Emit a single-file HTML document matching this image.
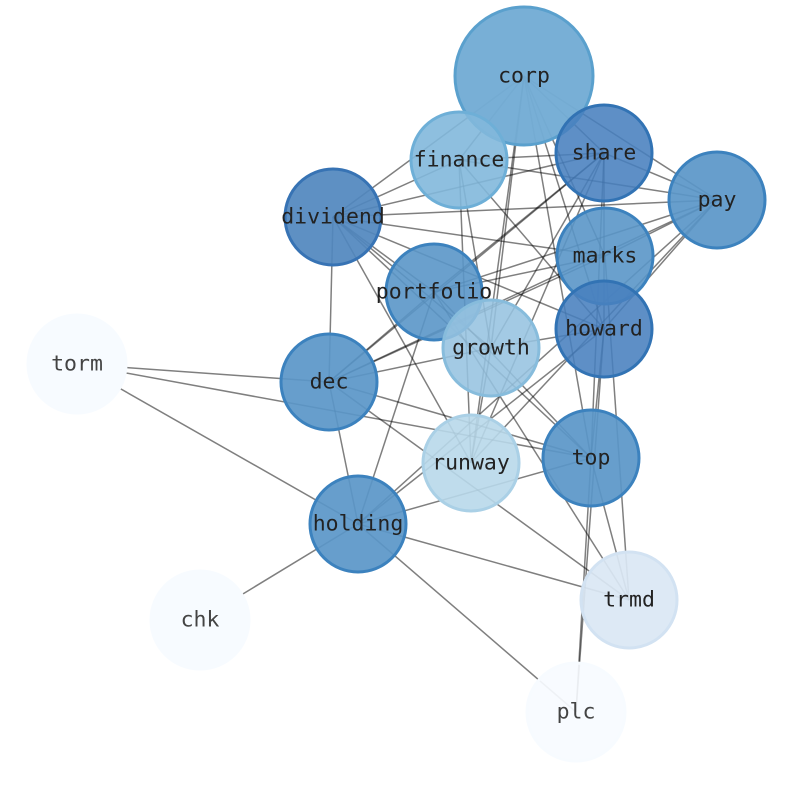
<!DOCTYPE html>
<html><head><style>body{margin:0;background:#fff}svg{display:block}</style></head><body>
<svg width="794" height="790" viewBox="0 0 794 790" xmlns="http://www.w3.org/2000/svg">
<g stroke="#000" stroke-opacity="0.5" stroke-width="1.5">
<line x1="524" y1="76" x2="333" y2="217"/><line x1="524" y1="76" x2="459" y2="160"/><line x1="524" y1="76" x2="604" y2="153"/><line x1="524" y1="76" x2="717" y2="200"/><line x1="524" y1="76" x2="605" y2="256"/><line x1="524" y1="76" x2="604" y2="329"/><line x1="524" y1="76" x2="491" y2="348"/><line x1="524" y1="76" x2="471" y2="463"/><line x1="524" y1="76" x2="591" y2="458"/>
<line x1="459" y1="160" x2="604" y2="153"/><line x1="459" y1="160" x2="717" y2="200"/><line x1="459" y1="160" x2="333" y2="217"/><line x1="459" y1="160" x2="491" y2="348"/><line x1="459" y1="160" x2="471" y2="463"/><line x1="459" y1="160" x2="604" y2="329"/>
<line x1="604" y1="153" x2="333" y2="217"/><line x1="604" y1="153" x2="717" y2="200"/><line x1="604" y1="153" x2="329" y2="382"/><line x1="604" y1="153" x2="434" y2="292"/><line x1="604" y1="153" x2="471" y2="463"/><line x1="604" y1="153" x2="604" y2="329"/><line x1="604" y1="153" x2="591" y2="458"/><line x1="604" y1="153" x2="491" y2="348"/>
<line x1="717" y1="200" x2="333" y2="217"/><line x1="717" y1="200" x2="434" y2="292"/><line x1="717" y1="200" x2="329" y2="382"/><line x1="717" y1="200" x2="604" y2="329"/><line x1="717" y1="200" x2="358" y2="524"/><line x1="717" y1="200" x2="471" y2="463"/><line x1="717" y1="200" x2="605" y2="256"/>
<line x1="333" y1="217" x2="329" y2="382"/><line x1="333" y1="217" x2="605" y2="256"/><line x1="333" y1="217" x2="604" y2="329"/><line x1="333" y1="217" x2="491" y2="348"/><line x1="333" y1="217" x2="471" y2="463"/><line x1="333" y1="217" x2="591" y2="458"/><line x1="333" y1="217" x2="434" y2="292"/>
<line x1="605" y1="256" x2="434" y2="292"/><line x1="605" y1="256" x2="329" y2="382"/><line x1="605" y1="256" x2="629" y2="600"/>
<line x1="434" y1="292" x2="358" y2="524"/><line x1="434" y1="292" x2="329" y2="382"/><line x1="434" y1="292" x2="591" y2="458"/><line x1="434" y1="292" x2="629" y2="600"/>
<line x1="604" y1="329" x2="491" y2="348"/><line x1="604" y1="329" x2="591" y2="458"/><line x1="604" y1="329" x2="358" y2="524"/><line x1="604" y1="329" x2="576" y2="712"/>
<line x1="491" y1="348" x2="329" y2="382"/><line x1="491" y1="348" x2="471" y2="463"/>
<line x1="77" y1="364" x2="329" y2="382"/><line x1="77" y1="364" x2="591" y2="458"/><line x1="77" y1="364" x2="358" y2="524"/>
<line x1="329" y1="382" x2="591" y2="458"/><line x1="329" y1="382" x2="629" y2="600"/><line x1="329" y1="382" x2="358" y2="524"/>
<line x1="591" y1="458" x2="358" y2="524"/><line x1="591" y1="458" x2="629" y2="600"/><line x1="591" y1="458" x2="576" y2="712"/>
<line x1="358" y1="524" x2="629" y2="600"/><line x1="358" y1="524" x2="576" y2="712"/><line x1="358" y1="524" x2="200" y2="620"/>
</g>
<g stroke-width="3">
<circle cx="524" cy="76" r="69" fill="rgb(116,172,213)" stroke="rgb(90,160,205)" fill-opacity="0.97"/>
<circle cx="459" cy="160" r="48" fill="rgb(130,184,219)" stroke="rgb(110,175,215)" fill-opacity="0.9"/>
<circle cx="604" cy="153" r="48" fill="rgb(72,128,190)" stroke="rgb(50,115,180)" fill-opacity="0.88"/>
<circle cx="717" cy="200" r="48" fill="rgb(90,150,200)" stroke="rgb(60,130,190)" fill-opacity="0.92"/>
<circle cx="333" cy="217" r="48" fill="rgb(80,135,190)" stroke="rgb(55,115,180)" fill-opacity="0.92"/>
<circle cx="605" cy="256" r="48" fill="rgb(90,150,200)" stroke="rgb(60,130,190)" fill-opacity="0.9"/>
<circle cx="434" cy="292" r="48" fill="rgb(90,150,200)" stroke="rgb(60,130,190)" fill-opacity="0.9"/>
<circle cx="604" cy="329" r="48" fill="rgb(72,128,190)" stroke="rgb(50,115,180)" fill-opacity="0.88"/>
<circle cx="491" cy="348" r="48" fill="rgb(150,195,224)" stroke="rgb(135,188,220)" fill-opacity="0.88"/>
<circle cx="77" cy="364" r="49" fill="#f7fbff" stroke="#f7fbff"/>
<circle cx="329" cy="382" r="48" fill="rgb(90,150,200)" stroke="rgb(60,130,190)" fill-opacity="0.92"/>
<circle cx="471" cy="463" r="48" fill="rgb(184,216,234)" stroke="rgb(170,208,230)" fill-opacity="0.9"/>
<circle cx="591" cy="458" r="48" fill="rgb(90,150,200)" stroke="rgb(60,130,190)" fill-opacity="0.92"/>
<circle cx="358" cy="524" r="48" fill="rgb(90,150,200)" stroke="rgb(60,130,190)" fill-opacity="0.92"/>
<circle cx="200" cy="620" r="49" fill="#f7fbff" stroke="#f7fbff"/>
<circle cx="629" cy="600" r="48" fill="rgb(218,231,244)" stroke="rgb(210,226,242)" fill-opacity="0.92"/>
<circle cx="576" cy="712" r="49" fill="#f7fbff" stroke="#f7fbff" fill-opacity="0.92"/>
</g>
<g font-family="'DejaVu Sans Mono','Liberation Mono',monospace" font-size="21.5" fill="#222" text-anchor="middle" dominant-baseline="central">
<text x="524" y="76">corp</text><text x="459" y="160">finance</text><text x="604" y="153">share</text><text x="717" y="200">pay</text><text x="333" y="217">dividend</text><text x="605" y="256">marks</text><text x="434" y="292">portfolio</text><text x="604" y="329">howard</text><text x="491" y="348">growth</text><text x="77" y="364" fill="#444">torm</text><text x="329" y="382">dec</text><text x="471" y="463">runway</text><text x="591" y="458">top</text><text x="358" y="524">holding</text><text x="200" y="620" fill="#444">chk</text><text x="629" y="600">trmd</text><text x="576" y="712" fill="#444">plc</text>
</g>
</svg>
</body></html>
